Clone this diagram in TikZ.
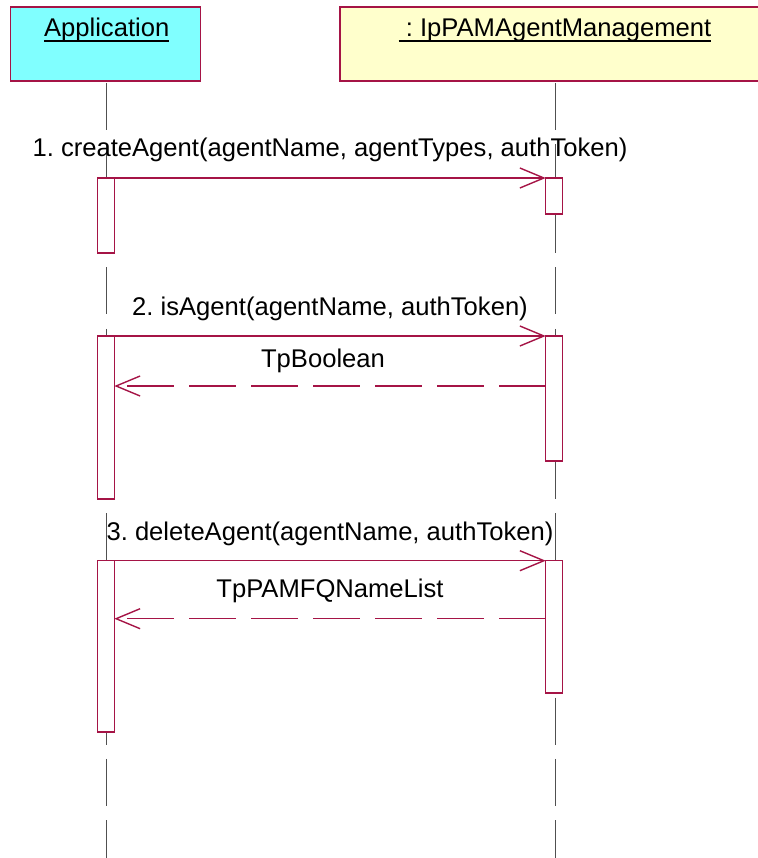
\documentclass[tikz,border=0pt]{standalone}
\usepackage{fontspec}
\setmainfont{Liberation Sans}
\usetikzlibrary{arrows.meta,calc}
\definecolor{umlred}{RGB}{165,20,70}
\definecolor{appfill}{RGB}{128,255,255}
\definecolor{ipfill}{RGB}{255,255,204}
\definecolor{lifegray}{RGB}{80,80,80}
\frenchspacing
\tikzset{
  objbox/.style={draw=umlred,line width=1.6pt,inner sep=0pt,outer sep=0pt},
  actbox/.style={draw=umlred,line width=1.1pt,fill=white,inner sep=0pt,outer sep=0pt,minimum width=17pt},
  lifeline/.style={draw=lifegray,line width=1pt,dash pattern=on 47pt off 14.45pt},
  lbl/.style={inner sep=0pt,outer sep=0pt,anchor=base,font=\fontsize{25.6}{30}\selectfont},
  callmsg/.style={draw=umlred,line width=1.2pt,-{Straight Barb[length=24pt,width=20pt,line width=1.4pt]}},
  retmsg/.style={draw=umlred,line width=1.2pt,dash pattern=on 47pt off 15pt,-{Straight Barb[length=24pt,width=20pt,line width=1.4pt]}},
  uline/.style={draw=black,line width=1.5pt}
}
\begin{document}
\begin{tikzpicture}[x=1pt,y=-1pt]
\useasboundingbox (0,0) rectangle (757,858);
% object boxes
\node[objbox,fill=appfill,minimum width=189.7pt,minimum height=74pt] (app) at (105.45,44.3) {};
\node[objbox,fill=ipfill,minimum width=440pt,minimum height=74pt] (ip) at (559.7,44.3) {};
\node[lbl] (apptxt) at (106.7,36.7) {Application};
\draw[uline] ($(apptxt.base west)+(0,4.3)$) -- ($(apptxt.base east)+(0,4.3)$);
\node[lbl] (iptxt) at (555,36.7) {\hspace*{0.28em}: IpPAMAgentManagement};
\draw[uline] ($(iptxt.base west)+(0,4.3)$) -- ($(iptxt.base east)+(0,4.3)$);
% lifelines
\coordinate (appTop) at (106.7,83);
\coordinate (appEnd) at (106.7,858);
\coordinate (ipTop) at (555,83);
\coordinate (ipEnd) at (555,858);
\draw[lifeline] (appTop) -- (appEnd);
\draw[lifeline] (ipTop) -- (ipEnd);
% activation boxes
\node[actbox,minimum height=75pt] (a1) at (105.8,215.5) {};
\node[actbox,minimum height=163pt] (a2) at (105.8,417.5) {};
\node[actbox,minimum height=171.3pt] (a3) at (105.8,646.35) {};
\node[actbox,minimum height=36pt] (b1) at (554.2,196) {};
\node[actbox,minimum height=125pt] (b2) at (554.2,398.5) {};
\node[actbox,minimum height=132.3pt] (b3) at (554.2,626.85) {};
% messages
\draw[callmsg] (a1.north east) -- (b1.north west)
  node[lbl,midway,yshift=21.5pt] (m1) {1. createAgent(agentName, agentTypes, authToken)};
\draw[callmsg] (a2.north east) -- (b2.north west)
  node[lbl,midway,yshift=21pt] (m2) {2. isAgent(agentName, authToken)};
\draw[retmsg] ($(b2.north west)+(0,50)$) -- ($(a2.north east)+(0,50)$)
  node[lbl,midway,yshift=19pt,xshift=-7pt] (r2) {TpBoolean};
\draw[callmsg] (a3.north east) -- (b3.north west)
  node[lbl,midway,yshift=20.7pt] (m3) {3. deleteAgent(agentName, authToken)};
\draw[retmsg] ($(b3.north west)+(0,58)$) -- ($(a3.north east)+(0,58)$)
  node[lbl,midway,yshift=21.7pt] (r3) {TpPAMFQNameList};
\end{tikzpicture}
\end{document}
